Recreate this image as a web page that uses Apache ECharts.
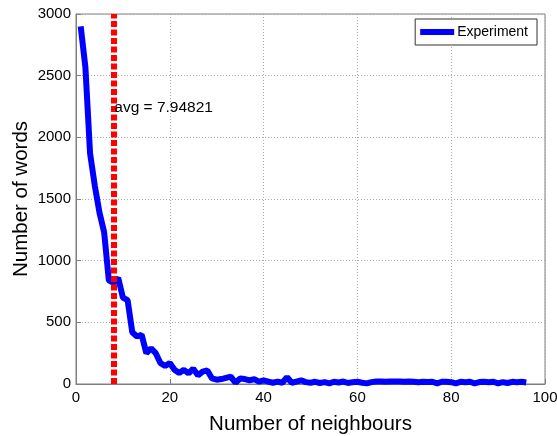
<!DOCTYPE html>
<html>
<head>
<meta charset="utf-8">
<script src="https://cdn.jsdelivr.net/npm/echarts@6/dist/echarts.min.js"></script>
<style>
  html, body { margin: 0; padding: 0; background: #fff; }
  #chart { width: 557px; height: 436px; }
</style>
</head>
<body>
<div id="chart"></div>
<script>
  // number of neighbours (x) and word counts (y)
  const neighbours = [];
  for (let i = 1; i <= 96; i++) neighbours.push(i);
  const words = [
    2900, 2570, 1870, 1610, 1390, 1230, 840, 820, 860, 700,
    680, 420, 385, 400, 250, 290, 250, 170, 145, 170,
    115, 90, 115, 85, 125, 70, 100, 110, 45, 35,
    40, 50, 60, 10, 45, 40, 30, 40, 20, 30,
    20, 10, 20, 10, 55, 10, 20, 30, 15, 10,
    18, 8, 15, 5, 18, 12, 20, 8, 15, 18,
    10, 5, 15, 20, 20, 18, 20, 20, 20, 18,
    20, 18, 15, 18, 16, 18, 5, 18, 18, 15,
    5, 18, 15, 18, 5, 16, 18, 15, 18, 5,
    15, 8, 18, 15, 18, 12
  ];
  const avgNeighbours = 7.94821;
  const avgLabelY = 2240;
  const xTicks = { min: 0, max: 100, interval: 20 };
  const yTicks = { min: 0, max: 3000, interval: 500 };

  const chart = echarts.init(document.getElementById('chart'));
  const font = 'Liberation Sans';
  const plain = v => String(v);
  const option = {
    animation: false,
    textStyle: { fontFamily: font },
    grid: {
      left: 76, right: 12, top: 14, bottom: 52,
      outerBoundsMode: 'none',
      show: true,
      borderColor: '#7f7f7f',
      borderWidth: 1
    },
    legend: {
      right: 20, top: 19,
      backgroundColor: '#fff',
      borderColor: '#333',
      borderWidth: 1,
      padding: [6, 9, 6, 5],
      itemWidth: 34, itemHeight: 6, itemGap: 4,
      icon: 'rect',
      textStyle: { fontSize: 14, color: '#000', fontFamily: font, padding: [0, 0, 0, -2] },
      data: ['Experiment']
    },
    xAxis: {
      type: 'value',
      min: xTicks.min, max: xTicks.max, interval: xTicks.interval,
      name: 'Number of neighbours',
      nameLocation: 'middle',
      nameGap: 30,
      nameTextStyle: { fontSize: 20.5, color: '#000', fontFamily: font },
      axisLine: { lineStyle: { color: '#7f7f7f' } },
      axisTick: { inside: true, length: 5, lineStyle: { color: '#7f7f7f' } },
      axisLabel: { fontSize: 15, color: '#000', margin: 6, formatter: plain },
      splitLine: { show: true, lineStyle: { type: [1, 2], color: '#aaa' } }
    },
    yAxis: {
      type: 'value',
      min: yTicks.min, max: yTicks.max, interval: yTicks.interval,
      name: 'Number of words',
      nameLocation: 'middle',
      nameGap: 44,
      nameMoveOverlap: false,
      nameTextStyle: { fontSize: 20.5, color: '#000', fontFamily: font },
      axisLine: { show: true, lineStyle: { color: '#7f7f7f' } },
      axisTick: { show: true, inside: true, length: 5, lineStyle: { color: '#7f7f7f' } },
      axisLabel: { fontSize: 15, color: '#000', margin: 5, formatter: plain },
      splitLine: { show: true, lineStyle: { type: [1, 2], color: '#aaa' } }
    },
    series: [
      {
        name: 'Experiment',
        type: 'line',
        showSymbol: false,
        color: '#0000ff',
        lineStyle: { width: 6, color: '#0000ff' },
        data: neighbours.map((x, i) => [x, words[i]]),
        markLine: {
          silent: true,
          symbol: 'none',
          label: { show: false },
          lineStyle: { color: '#ff0000', width: 6, type: [6, 2.5] },
          data: [{ xAxis: avgNeighbours }]
        },
        markPoint: {
          silent: true,
          symbol: 'circle',
          symbolSize: 0,
          label: {
            show: true,
            position: 'right',
            distance: 1,
            fontSize: 15.5,
            color: '#000',
            formatter: 'avg = ' + avgNeighbours
          },
          data: [{ coord: [avgNeighbours, avgLabelY] }]
        }
      }
    ]
  };
  chart.setOption(option);
</script>
</body>
</html>
